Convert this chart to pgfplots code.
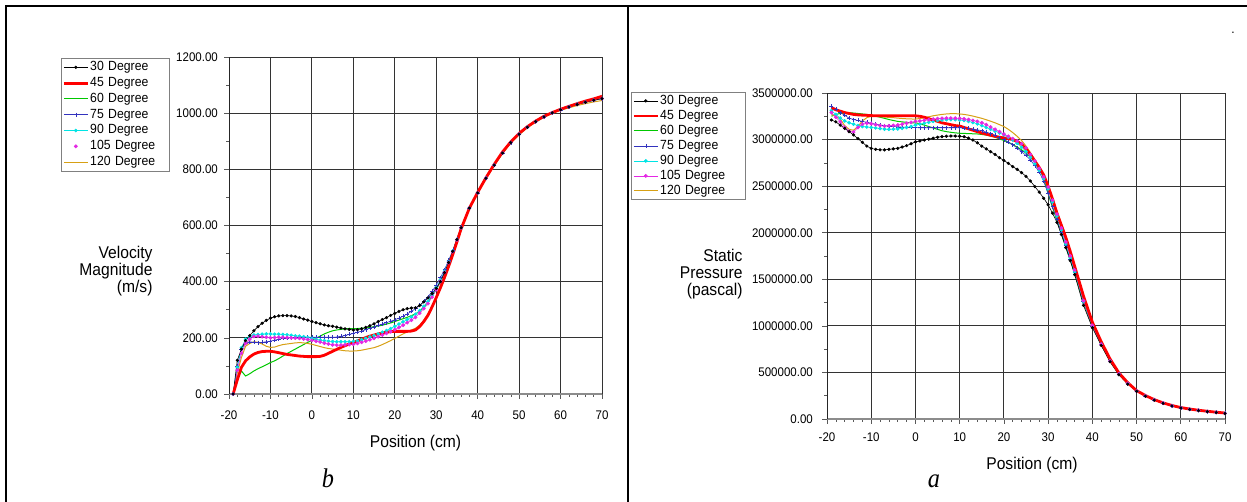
\documentclass[border=0pt]{standalone}
\usepackage{pgfplots}
\pgfplotsset{compat=1.18}
\usepackage{pgfplotstable}
\usepackage{fontspec}
\setmainfont{Liberation Sans}[FakeStretch=0.92]
\newfontfamily\capfont{Liberation Serif}[FakeStretch=0.9]

\definecolor{c60}{RGB}{0,200,0}
\definecolor{c75}{RGB}{50,50,190}
\definecolor{c90}{RGB}{0,228,228}
\definecolor{c105}{RGB}{228,40,228}
\definecolor{c120}{RGB}{215,160,20}

\newcommand\labfont{\fontsize{17}{17}\selectfont}
\newcommand\tickfont{\fontsize{12.5}{14}\selectfont}

% Velocity magnitude (m/s) along the nozzle axis, one column per angle
\pgfplotstableread{
x    a30  a45  a60  a75  a90  a105 a120
-19  0    0    0    0    0    0    0
-18  120  50   55   100  95   85   75
-17  160  95   82   160  165  145  130
-16  190  118  64   182  195  180  170
-15  208  132  72   186  204  195  180
-14  225  142  82   184  210  205  186
-13  240  148  90   183  212  206  184
-12  252  151  97   184  213  204  178
-11  262  152  104  186  214  202  170
-10  270  152  112  188  214  200  166
-9   275  150  118  192  213  201  167
-8   278  147  126  195  213  202  172
-7   279  144  135  198  212  202  176
-6   279  141  144  200  211  201  178
-5   278  139  152  201  209  200  180
-4   276  137  160  202  207  199  182
-3   272  135  168  202  206  198  183
-2   267  134  176  202  204  196  182
-1   263  133  184  202  201  194  180
0    258  133  191  202  198  191  177
1    254  133  198  202  195  188  173
2    250  134  206  202  192  185  169
3    246  138  214  202  190  181  165
4    243  145  220  202  188  178  162
5    241  152  225  202  187  175  160
6    238  159  228  203  186  174  158
7    235  166  230  205  186  174  156
8    232  172  232  208  186  175  154
9    230  178  233  212  186  176  153
10   228  183  233  216  187  177  153
11   229  189  233  220  189  180  154
12   232  195  234  224  193  184  156
13   237  201  235  229  198  188  159
14   243  206  237  234  203  193  162
15   250  210  240  239  208  198  165
16   258  214  242  244  214  204  170
17   265  217  245  249  220  210  176
18   272  220  249  254  226  216  183
19   280  222  253  259  233  222  190
20   287  223  258  264  241  229  198
21   294  223  263  270  249  237  206
22   300  223  268  277  257  245  214
23   304  223  273  285  265  254  221
24   306  224  279  294  274  263  228
25   307  228  285  304  284  273  234
26   315  240  295  316  297  288  245
27   328  258  310  330  312  304  262
28   342  280  328  346  330  322  285
29   358  310  348  365  352  345  312
30   376  343  372  388  378  372  342
31   400  378  400  414  406  401  375
32   432  415  432  443  437  433  410
33   468  455  468  476  471  468  450
34   508  497  508  512  509  507  492
35   550  542  550  552  550  549  537
36   592  588  592  593  592  592  582
38   662  662  662  662  662  662  658
40   716  718  716  716  716  716  714
42   768  770  768  768  768  768  766
44   815  818  815  815  815  815  813
46   858  862  858  858  858  858  856
48   895  898  895  895  895  895  893
50   925  928  925  925  925  925  923
52   950  952  950  950  950  950  948
54   970  972  970  970  970  970  968
56   987  989  987  987  987  987  985
58   1001 1002 1001 1001 1001 1001 999
60   1012 1014 1012 1012 1012 1012 1010
62   1022 1024 1022 1022 1022 1022 1019
64   1031 1034 1031 1031 1031 1031 1027
66   1039 1043 1039 1039 1039 1039 1034
68   1046 1051 1046 1046 1046 1046 1040
70   1052 1060 1052 1052 1052 1052 1045
}\vel

% Static pressure (Pa) along the nozzle axis, one column per angle
\pgfplotstableread{
x    a30     a45     a60     a75     a90     a105    a120
-19  3210000 3340000 3250000 3360000 3310000 3290000 3270000
-18  3190000 3320000 3270000 3330000 3270000 3240000 3250000
-17  3155000 3305000 3280000 3290000 3230000 3190000 3220000
-16  3120000 3290000 3285000 3260000 3200000 3130000 3150000
-15  3085000 3280000 3287000 3230000 3180000 3090000 3110000
-14  3050000 3270000 3285000 3215000 3165000 3080000 3100000
-13  3010000 3265000 3280000 3205000 3150000 3130000 3140000
-12  2970000 3262000 3275000 3195000 3140000 3165000 3200000
-11  2930000 3260000 3270000 3185000 3135000 3175000 3235000
-10  2905000 3257000 3260000 3176000 3130000 3170000 3250000
-9   2895000 3256000 3250000 3165000 3125000 3160000 3250000
-8   2890000 3255000 3240000 3157000 3118000 3150000 3245000
-7   2890000 3255000 3228000 3150000 3112000 3145000 3242000
-6   2895000 3255000 3215000 3145000 3110000 3148000 3238000
-5   2900000 3255000 3205000 3140000 3112000 3152000 3235000
-4   2905000 3255000 3195000 3137000 3115000 3156000 3230000
-3   2920000 3255000 3190000 3134000 3120000 3165000 3226000
-2   2935000 3255000 3185000 3132000 3130000 3175000 3223000
-1   2955000 3255000 3180000 3130000 3140000 3185000 3221000
0    2975000 3255000 3180000 3128000 3155000 3195000 3220000
1    2985000 3250000 3170000 3127000 3165000 3200000 3226000
2    2995000 3240000 3155000 3127000 3175000 3207000 3235000
3    3005000 3225000 3140000 3127000 3185000 3213000 3245000
4    3015000 3210000 3125000 3127000 3195000 3219000 3255000
5    3025000 3195000 3110000 3127000 3205000 3225000 3263000
6    3032000 3180000 3095000 3127000 3210000 3228000 3270000
7    3036000 3170000 3085000 3127000 3213000 3230000 3275000
8    3038000 3160000 3078000 3127000 3214000 3230000 3278000
9    3038000 3150000 3072000 3127000 3213000 3229000 3278000
10   3036000 3145000 3068000 3127000 3210000 3227000 3275000
11   3030000 3130000 3066000 3125000 3205000 3222000 3270000
12   3015000 3115000 3064000 3120000 3195000 3215000 3262000
13   2995000 3100000 3062000 3113000 3183000 3205000 3252000
14   2965000 3085000 3060000 3105000 3168000 3195000 3240000
15   2930000 3070000 3055000 3095000 3150000 3180000 3228000
16   2900000 3058000 3048000 3080000 3130000 3160000 3213000
17   2870000 3046000 3038000 3065000 3110000 3135000 3197000
18   2840000 3035000 3025000 3045000 3090000 3110000 3180000
19   2805000 3025000 3008000 3022000 3070000 3085000 3160000
20   2775000 3018000 2990000 3000000 3050000 3058000 3140000
21   2745000 3010000 2970000 2975000 3025000 3035000 3110000
22   2710000 3000000 2945000 2945000 2995000 3010000 3075000
23   2680000 2980000 2920000 2910000 2960000 2985000 3035000
24   2645000 2950000 2890000 2870000 2920000 2955000 2990000
25   2605000 2900000 2855000 2830000 2870000 2910000 2930000
26   2555000 2840000 2810000 2780000 2810000 2840000 2860000
27   2495000 2770000 2760000 2720000 2740000 2770000 2780000
28   2435000 2700000 2690000 2650000 2670000 2690000 2690000
29   2370000 2620000 2580000 2550000 2580000 2600000 2600000
30   2300000 2500000 2420000 2420000 2470000 2490000 2500000
31   2210000 2360000 2270000 2280000 2330000 2350000 2370000
32   2110000 2210000 2130000 2140000 2180000 2200000 2230000
33   1980000 2080000 1990000 2000000 2030000 2050000 2090000
34   1840000 1950000 1850000 1860000 1880000 1900000 1950000
35   1700000 1800000 1710000 1720000 1730000 1750000 1800000
36   1550000 1640000 1570000 1580000 1580000 1600000 1650000
38   1220000 1320000 1250000 1260000 1260000 1270000 1300000
40   980000  1040000 1000000 1000000 1000000 1005000 1020000
42   790000  830000  800000  800000  800000  802000  815000
44   615000  645000  620000  620000  620000  622000  632000
46   475000  495000  480000  480000  480000  482000  488000
48   375000  390000  380000  380000  380000  381000  385000
50   298000  305000  300000  300000  300000  300000  303000
52   245000  252000  248000  248000  248000  248000  250000
54   203000  208000  205000  205000  205000  205000  207000
56   168000  173000  170000  170000  170000  170000  172000
58   140000  145000  142000  142000  142000  142000  144000
60   118000  123000  120000  120000  120000  120000  122000
62   103000  107000  105000  105000  105000  105000  106000
64   90000   94000   92000   92000   92000   92000   93000
66   79000   83000   80000   80000   80000   80000   82000
68   69000   73000   70000   70000   70000   70000   72000
70   59000   64000   60000   60000   60000   60000   62000
}\pres

\pgfplotsset{
  s30/.style={black, line width=0.6pt, mark=*, mark size=1.3pt},
  s45/.style={red, line width=2.8pt},
  s60/.style={c60, line width=1pt},
  s75/.style={c75, line width=0.6pt, mark=+, mark size=2pt, mark options={line width=0.5pt}},
  s90/.style={c90, line width=0.6pt, mark=*, mark size=1.5pt},
  s105/.style={c105, line width=0.6pt, mark=*, mark size=1.6pt},
  s120/.style={c120, line width=1pt},
  % legend box: position, row text height, row text depth, text column width
  lgd/.style n args={4}{
    legend style={at={#1}, anchor=north west,
      draw=black!50, line width=0.8pt, fill=white,
      inner xsep=1pt, inner ysep=1pt,
      font=\fontsize{13.3}{15}\selectfont,
      nodes={inner xsep=0pt, inner ysep=0pt, text height=#2, text depth=#3},
      cells={anchor=west},
      /tikz/every odd column/.append style={column sep=1pt},
      /tikz/every even column/.append style={text width=#4, align=left}},
  },
  panel/.style={
    scale only axis,
    xmin=-20, xmax=70,
    xtick={-20,-10,0,10,20,30,40,50,60,70},
    minor x tick num=4, minor y tick num=1,
    grid=major,
    major grid style={black!80, line width=0.8pt},
    axis x line*=bottom, axis y line*=left,
    x axis line style={black!45, line width=1.3pt, -},
    y axis line style={black!85, line width=0.8pt, -},
    tick align=outside,
    major tick length=5pt, minor tick length=3pt,
    every tick/.style={black!65, line width=0.6pt},
    scaled y ticks=false,
    /pgf/number format/assume math mode=true,
    ticklabel style={font=\tickfont},
    yticklabel style={/pgf/number format/fixed, /pgf/number format/fixed zerofill,
      /pgf/number format/precision=2, /pgf/number format/1000 sep={}},
    legend image code/.code={\draw[mark repeat=2,mark phase=2,##1] plot coordinates {(0pt,0pt) (12pt,0pt) (24pt,0pt)};},
  },
}

\begin{document}
\begin{tikzpicture}
\path[use as bounding box] (0pt,0pt) rectangle (1247pt,502pt);
% table borders around the two panels
\draw[line width=2pt] (6pt,0pt) -- (6pt,495.5pt) -- (1247pt,495.5pt);
\draw[line width=2pt] (628pt,0pt) -- (628pt,495.5pt);
\node[anchor=base, font=\fontsize{13}{15}\selectfont] at (1233pt,468pt) {.};

% panel b: velocity magnitude
\begin{axis}[panel,
  at={(229pt,108pt)}, anchor=south west,
  width=373pt, height=337pt,
  ymin=0, ymax=1200, ytick={0,200,400,600,800,1000,1200},
  xticklabel style={anchor=base, inner sep=0pt, yshift=-21pt},
  yticklabel style={anchor=east, inner sep=0pt, xshift=-6pt},
  xlabel={Position (cm)}, ylabel={Velocity\\Magnitude\\(m/s)},
  every axis x label/.style={at={(axis description cs:0.5,0)}, anchor=center, yshift=-49pt, font=\labfont},
  every axis y label/.style={at={(axis description cs:-0.1957,0.365)}, anchor=east, align=right, font=\labfont},
  lgd={(axis description cs:-0.4504,0.997)}{11.2pt}{4.6pt}{78pt},
]
\addlegendimage{s30}  \addlegendentry{30 Degree}
\addlegendimage{s45}  \addlegendentry{45 Degree}
\addlegendimage{s60}  \addlegendentry{60 Degree}
\addlegendimage{s75}  \addlegendentry{75 Degree}
\addlegendimage{s90}  \addlegendentry{90 Degree}
\addlegendimage{s105, only marks} \addlegendentry{105 Degree}
\addlegendimage{s120} \addlegendentry{120 Degree}
\addplot[s60, forget plot]  table[x=x, y=a60]  {\vel};
\addplot[s120, forget plot] table[x=x, y=a120] {\vel};
\addplot[s75, forget plot]  table[x=x, y=a75]  {\vel};
\addplot[s90, forget plot]  table[x=x, y=a90]  {\vel};
\addplot[s105, forget plot] table[x=x, y=a105] {\vel};
\addplot[s30, forget plot]  table[x=x, y=a30]  {\vel};
\addplot[s45, forget plot]  table[x=x, y=a45]  {\vel};
\end{axis}
\node[anchor=base] at (328pt,14pt) {\capfont\fontsize{27}{27}\selectfont\itshape b};

% panel a: static pressure
\begin{axis}[panel,
  at={(827pt,83pt)}, anchor=south west,
  width=398pt, height=326pt,
  ymin=0, ymax=3500000,
  ytick={0,500000,1000000,1500000,2000000,2500000,3000000,3500000},
  xticklabel style={anchor=base, inner sep=0pt, yshift=-18pt},
  yticklabel style={anchor=east, inner sep=0pt, xshift=-9pt},
  xlabel={Position (cm)}, ylabel={Static\\Pressure\\(pascal)},
  every axis x label/.style={at={(axis description cs:0.515,0)}, anchor=center, yshift=-46pt, font=\labfont},
  every axis y label/.style={at={(axis description cs:-0.2035,0.4448)}, anchor=east, align=right, font=\labfont},
  lgd={(axis description cs:-0.4925,1.003)}{10.8pt}{4.2pt}{84pt},
]
\addlegendimage{s30}  \addlegendentry{30 Degree}
\addlegendimage{s45}  \addlegendentry{45 Degree}
\addlegendimage{s60}  \addlegendentry{60 Degree}
\addlegendimage{s75}  \addlegendentry{75 Degree}
\addlegendimage{s90}  \addlegendentry{90 Degree}
\addlegendimage{s105} \addlegendentry{105 Degree}
\addlegendimage{s120} \addlegendentry{120 Degree}
\addplot[s60, forget plot]  table[x=x, y=a60]  {\pres};
\addplot[s120, forget plot] table[x=x, y=a120] {\pres};
\addplot[s75, forget plot]  table[x=x, y=a75]  {\pres};
\addplot[s90, forget plot]  table[x=x, y=a90]  {\pres};
\addplot[s105, forget plot] table[x=x, y=a105] {\pres};
\addplot[s30, forget plot]  table[x=x, y=a30]  {\pres};
\addplot[s45, forget plot]  table[x=x, y=a45]  {\pres};
\end{axis}
\node[anchor=base] at (934pt,14pt) {\capfont\fontsize{27}{27}\selectfont\itshape a};
\end{tikzpicture}
\end{document}
